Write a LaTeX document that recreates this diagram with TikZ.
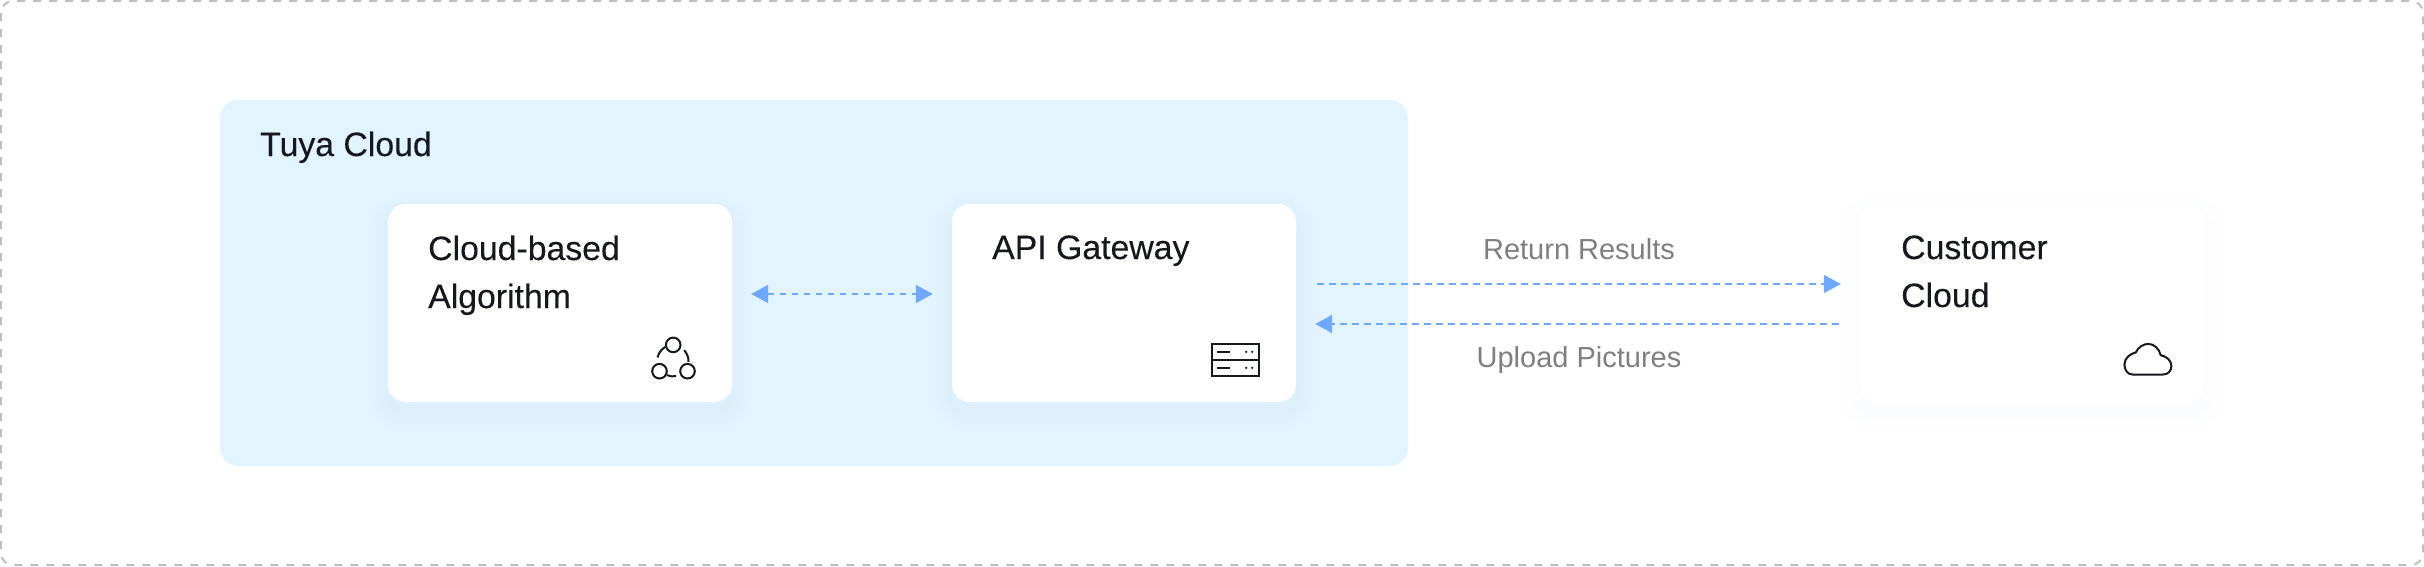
\documentclass[tikz,border=0pt]{standalone}
\usepackage{fontspec}
\setmainfont{Liberation Sans}
\newfontfamily\titlefont[FakeBold=0.18]{Liberation Sans}
\usepackage{xcolor}
\usetikzlibrary{arrows.meta}
\definecolor{panelblue}{HTML}{E1F4FF}
\definecolor{flowblue}{HTML}{6FA9FF}
\definecolor{shadowblue}{HTML}{2A4F8F}
\definecolor{framegray}{HTML}{BFBFBF}
\definecolor{labelgray}{HTML}{7F7F7F}
\definecolor{inkblack}{HTML}{15181C}

\begin{document}
\begin{tikzpicture}[
  x = 1pt, y = -1pt,
  softlayer/.style = {preaction = {draw = shadowblue, line width = #1, opacity = 0.005,
      transform canvas = {yshift = -10pt}}},
  cardbox/.style = {softlayer = 40pt, softlayer = 32pt, softlayer = 24pt, softlayer = 16pt,
      softlayer = 8pt, fill = white, rounded corners = 18pt,
      minimum width = 344pt, minimum height = 198pt, inner sep = 0pt},
  title/.style = {anchor = base west, inner sep = 0pt, text = inkblack,
      font = \titlefont\fontsize{33.8}{36}\selectfont},
  note/.style = {anchor = base, inner sep = 0pt, text = labelgray,
      font = \fontsize{29}{36}\selectfont},
  flow/.style = {draw = flowblue, line width = 1.8pt, dash pattern = on 6.5pt off 5.5pt,
      {Triangle[length = 17pt, width = 18pt]}-{Triangle[length = 17pt, width = 18pt]}},
  flowto/.style = {draw = flowblue, line width = 1.8pt, dash pattern = on 6.5pt off 5.5pt,
      -{Triangle[length = 17pt, width = 18pt]}},
  icon/.style = {draw = inkblack, line width = 2pt}
]
\useasboundingbox (0,0) rectangle (2424,566);
\draw[framegray, line width = 2pt, dash pattern = on 8pt off 8pt, rounded corners = 12pt]
  (1,1) rectangle (2423,565);
\node[fill = panelblue, rounded corners = 18pt, minimum width = 1188pt, minimum height = 366pt,
  inner sep = 0pt] (tuya) at (814,283) {};
\node[title] (tuyatext) at (260,156) {Tuya Cloud};

\node[cardbox] (algo) at (560,303) {};
\node[cardbox] (gate) at (1124,303) {};
\node[cardbox] (customer) at (2032,303) {};

\node[title] (algotext) at (428,260) {Cloud-based};
\node[title] (algotext2) at (428,308) {Algorithm};
\node[title] (gatetext) at (992,259) {API Gateway};
\node[title] (customertext) at (1901,259) {Customer};
\node[title] (customertext2) at (1901,307) {Cloud};

\draw[flow, shorten < = 19pt, shorten > = 19pt] ([yshift = 9pt]algo.east) -- ([yshift = 9pt]gate.west);
\draw[flowto, shorten < = 21pt, shorten > = 19pt] ([yshift = 19pt]gate.east) -- ([yshift = 19pt]customer.west);
\draw[flowto, shorten < = 21pt, shorten > = 19pt] ([yshift = -21pt]customer.west) -- ([yshift = -21pt]gate.east);

\node[note] (returntext) at (1579,259) {Return Results};
\node[note] (uploadtext) at (1579,367) {Upload Pictures};

\begin{scope}[shift = {(algo.south east)}]
  \draw[icon] (-59,-57.3) circle (7.3) (-72.7,-31) circle (7.3) (-44.7,-31) circle (7.3);
  \draw[icon] (-74.7,-44.7) to[bend left = 20] (-67,-55.3);
  \draw[icon] (-48,-52) to[bend left = 20] (-43.7,-40.3);
  \draw[icon] (-65.3,-27) to[bend right = 12] (-56,-26);
\end{scope}

\begin{scope}[shift = {(gate.south east)}]
  \draw[icon] (-84.3,-58.3) rectangle (-37.7,-26.3) (-84.3,-42.3) -- (-37.7,-42.3);
  \foreach \row in {-50.3,-34.3} {
    \draw[icon] (-79.3,\row) -- (-66,\row);
    \fill[inkblack] (-50,\row) circle (1.3) (-44,\row) circle (1.3);
  }
\end{scope}

\begin{scope}[shift = {(customer.south east)}]
  \draw[icon] (-71.8,-27.7) .. controls (-76.8,-27.7) and (-79.8,-32.7) .. (-79.8,-37.7)
    .. controls (-79.8,-43.7) and (-74.2,-48.7) .. (-68.5,-49.7)
    .. controls (-65.8,-55.3) and (-60.8,-58.3) .. (-55.8,-58.3)
    .. controls (-50.2,-58.3) and (-45.2,-53.7) .. (-43.5,-47)
    .. controls (-37.5,-46) and (-32.8,-41.3) .. (-32.8,-36.3)
    .. controls (-32.8,-31.3) and (-36.2,-27.7) .. (-41.2,-27.7) -- cycle;
\end{scope}
\end{tikzpicture}
\end{document}
